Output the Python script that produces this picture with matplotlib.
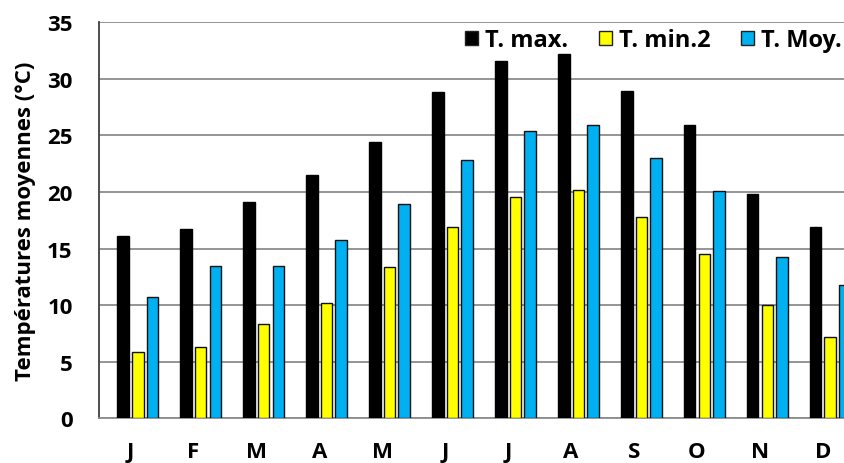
import matplotlib
matplotlib.use('Agg')
import matplotlib.pyplot as plt
from matplotlib.patches import Patch
import numpy as np

# monthly temperatures (°C)
months = ['J', 'F', 'M', 'A', 'M', 'J', 'J', 'A', 'S', 'O', 'N', 'D']
t_max = [16.1, 16.7, 19.1, 21.5, 24.4, 28.8, 31.6, 32.2, 28.9, 25.9, 19.8, 16.9]
t_min2 = [5.9, 6.3, 8.3, 10.2, 13.4, 16.9, 19.6, 20.2, 17.8, 14.5, 10.0, 7.2]
t_moy = [10.7, 13.5, 13.5, 15.8, 18.9, 22.8, 25.4, 25.9, 23.0, 20.1, 14.3, 11.8]

series_names = ['T. max.', 'T. min.2', 'T. Moy.']
series_colors = ['#000000', '#FFFF00', '#00B0F0']

plt.rcParams['font.family'] = ['Open Sans', 'DejaVu Sans']
plt.rcParams['font.weight'] = 'bold'

W, H = 844, 464
fig = plt.figure(figsize=(W / 100, H / 100), dpi=100)
# plot area runs a little past the right edge of the figure
ax = fig.add_axes([99 / W, (H - 419.3) / H, (854.4 - 99) / W, (419.3 - 23.3) / H])

x = np.arange(len(months))
width = 0.183
step = 0.232
# four slots per month, the first one is left empty
offsets = [-0.5 * step, 0.5 * step, 1.5 * step]
edges = ['#000000', '#111111', '#111111']

for vals, off, col, ec in zip([t_max, t_min2, t_moy], offsets, series_colors, edges):
    ax.bar(x + off, vals, width, color=col, edgecolor=ec, linewidth=1.0, zorder=3)

ax.set_xlim(-0.5, len(months) - 0.5)
ax.set_ylim(0, 35)
ax.set_yticks(range(0, 36, 5))
ax.set_xticks(x)
ax.set_xticklabels(months)
ax.tick_params(axis='both', length=0, labelsize=16)
ax.tick_params(axis='y', pad=19)
ax.tick_params(axis='x', pad=16)

ax.grid(axis='y', color='#8c8c8c', linewidth=1.3, zorder=0)
ax.set_axisbelow(True)
for s in ['top', 'right']:
    ax.spines[s].set_visible(False)
ax.spines['left'].set_color('#404040')
ax.spines['left'].set_linewidth(1.3)
ax.spines['bottom'].set_color('#8c8c8c')
ax.spines['bottom'].set_linewidth(1.3)

ax.set_ylabel('Températures moyennes (°C)', fontsize=16, fontweight='bold', labelpad=8)

handles = [Patch(facecolor=c, edgecolor='#222222', linewidth=1.0) for c in series_colors]
fig.legend(handles, series_names, loc='center right', bbox_to_anchor=(842 / W, (H - 41) / H),
           ncol=3, frameon=False, fontsize=17, handlelength=0.55, handleheight=0.55,
           handletextpad=0.3, columnspacing=1.3, borderpad=0, borderaxespad=0)

fig.savefig('out.png', dpi=100)
